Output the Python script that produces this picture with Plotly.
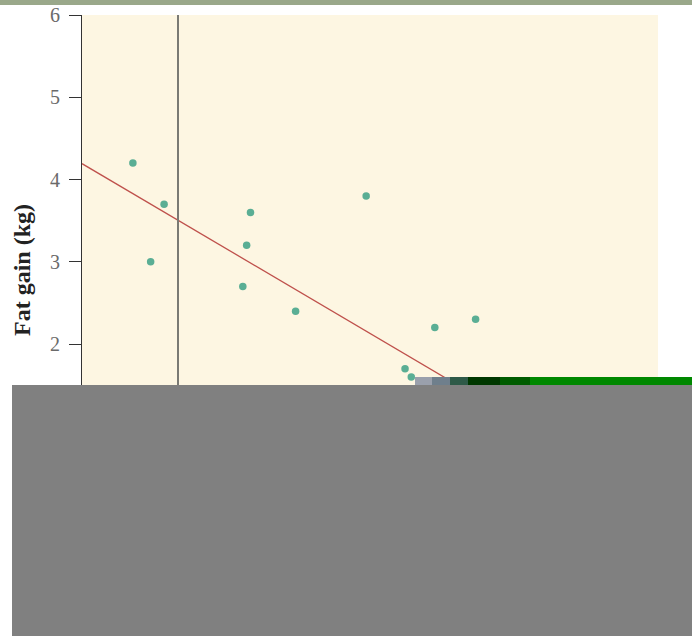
import plotly.graph_objects as go

# Data: change in non-exercise activity (cal) vs fat gain (kg)
nea_change = [-94, -57, -29, 135, 143, 151, 245, 355, 392, 473, 486, 535, 571, 580, 620, 690]
fat_gain = [4.2, 3.0, 3.7, 2.7, 3.2, 3.6, 2.4, 1.3, 3.8, 1.7, 1.6, 2.2, 1.0, 0.4, 2.3, 1.1]
fit_x = [-200, 1000]
fit_intercept = 3.505
fit_slope = -0.00344
fit_y = [fit_intercept + fit_slope * x for x in fit_x]
y_ticks = [0, 1, 2, 3, 4, 5, 6]
x_ticks = [-200, 0, 200, 400, 600, 800, 1000]

W, H = 692, 636
L, R, T, B = 82, 34, 15, 111
pw, ph = W - L - R, H - T - B

def px(xpix):
    return (xpix - L) / pw

def py(ypix):
    return (H - B - ypix) / ph

fig = go.Figure()
fig.add_trace(go.Scatter(x=fit_x, y=fit_y, mode="lines",
                         line=dict(color="#bf514c", width=1.3), hoverinfo="skip"))
fig.add_trace(go.Scatter(x=nea_change, y=fat_gain, mode="markers",
                         marker=dict(color="#5aae94", size=7.5)))

# vertical reference line at x = 0
fig.add_shape(type="line", xref="x", yref="paper", x0=0, x1=0, y0=0, y1=1,
              line=dict(color="#7a7a74", width=2))

# top strip
fig.add_shape(type="rect", xref="paper", yref="paper", x0=px(0), x1=px(W),
              y0=py(5), y1=py(0), fillcolor="#9aa88a", line=dict(width=0), layer="above")
# occluding gray box
fig.add_shape(type="rect", xref="paper", yref="paper", x0=px(12), x1=px(W),
              y0=py(H), y1=py(385), fillcolor="#808080", line=dict(width=0), layer="above")
# green gradient bar
segs = [(415, 432, "#9aa0ac"), (432, 450, "#6f7f8c"), (450, 468, "#2e5a48"),
        (468, 500, "#003800"), (500, 530, "#005c00"), (530, W, "#008800")]
for a, b, c in segs:
    fig.add_shape(type="rect", xref="paper", yref="paper", x0=px(a), x1=px(b),
                  y0=py(385), y1=py(377), fillcolor=c, line=dict(width=0), layer="above")

fig.update_layout(
    width=W, height=H,
    margin=dict(l=L, r=R, t=T, b=B, autoexpand=False),
    paper_bgcolor="white",
    plot_bgcolor="#fdf6e2",
    showlegend=False,
    font=dict(family="Liberation Serif", size=20, color="#6a6a6a"),
)
fig.update_xaxes(range=[-200, 1000], tickvals=x_ticks, showgrid=False, zeroline=False,
                 showline=True, linecolor="#333333", ticks="outside", ticklen=12,
                 tickcolor="#333333", automargin=False,
                 title=dict(text="Nonexercise activity change (calories)",
                            font=dict(size=20, color="#808080")))
fig.update_yaxes(range=[-0.2, 6], tickvals=y_ticks, showgrid=False, zeroline=False,
                 showline=True, linecolor="#333333", linewidth=1.2, ticks="outside",
                 ticklen=12, tickcolor="#333333", ticklabelstandoff=5, automargin=False,
                 title=dict(text="<b>Fat gain (kg)</b>", standoff=12,
                            font=dict(size=24, color="#222222")))

fig.write_html("out.html", config={"displayModeBar": False},
               post_script="document.body.style.margin='0';")
